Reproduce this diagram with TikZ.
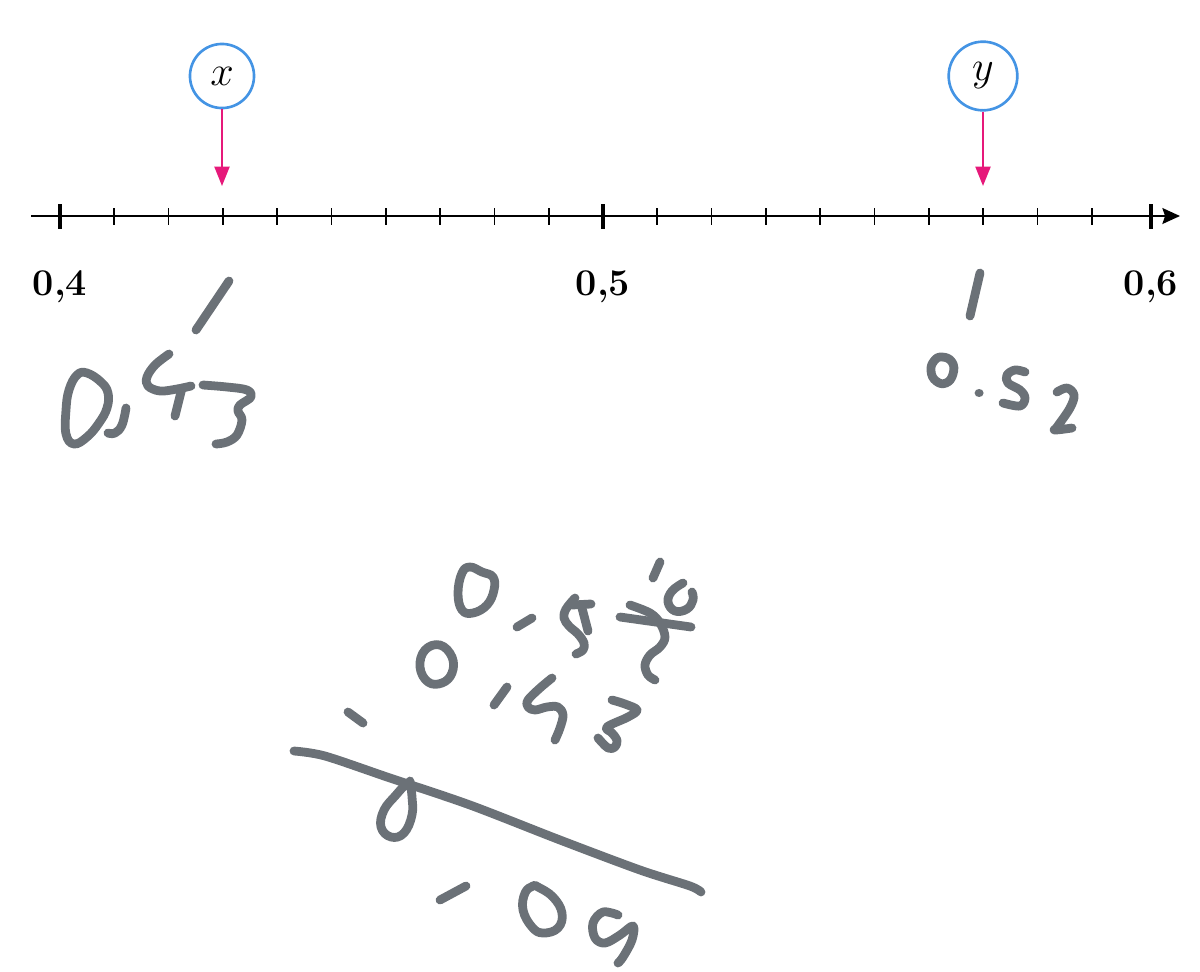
\documentclass[tikz,border=0pt]{standalone}
\usepackage{fix-cm}
\usetikzlibrary{arrows.meta}
\definecolor{cINK}{HTML}{6B7177}
\definecolor{cPNK}{HTML}{E6197A}
\definecolor{cBLU}{HTML}{4494E4}
\begin{document}
\begin{tikzpicture}[x=0.02cm, y=-0.02cm, >=Stealth,
  ink/.style={cINK, line width=5pt, line cap=round, line join=round},
  var/.style={circle, draw=cBLU, line width=1.5pt, inner sep=7pt, font=\fontsize{24}{28}\selectfont},
  ptr/.style={cPNK, line width=1.3pt, -{Triangle[length=11pt,width=8.5pt]}},
  lbl/.style={anchor=base, font=\fontsize{21.5}{26}\selectfont\bfseries}]
\useasboundingbox (0,0) rectangle (1200,971);
\coordinate (l0) at (31,216);
\coordinate (l1) at (1180,216);
\draw[line width=1.3pt, -{Stealth[length=10pt,width=9pt,inset=1.5pt]}] (l0) -- (l1);
\foreach \i in {1,...,19} \draw[line width=1pt] (60+54.3*\i,208) -- (60+54.3*\i,225);
\foreach \n/\x/\t in {lab4/60/{0,4}, lab5/603/{0,5}, lab6/1151/{0,6}} {
  \draw[line width=1.8pt] (\x,204) -- (\x,229);
  \node[lbl] (\n) at (\x,295) {\t};
}
\node[var] (x) at (222,76) {$x$};
\node[var] (y) at (983,76) {$y$};
\coordinate (px) at (222,186);
\coordinate (py) at (983,186);
\draw[ptr] (x) -- (px);
\draw[ptr] (y) -- (py);
% 0,43
\draw[ink] (229,281) -- (196,330);
\draw[ink] plot[smooth cycle, tension=0.7] coordinates {(87,373) (101,382) (108,393) (107,408) (99,423) (87,437) (74,444) (66,434) (66,410) (69,390) (77,375)};
\draw[ink] plot[smooth, tension=0.7] coordinates {(126,408) (122,425) (115,433) (108,433)};
\draw[ink] plot[smooth, tension=0.6] coordinates {(169,354) (155,365) (147,377) (148,386) (160,391) (177,389) (191,386)};
\draw[ink] (182,388) -- (175,416);
\draw[ink] plot[smooth, tension=0.6] coordinates {(203,385) (227,387) (247,390) (251,397) (240,405) (238,411) (242,420) (237,435) (227,442) (216,444)};
% 0.52
\draw[ink] (980,273) -- (970,316);
\draw[ink] plot[smooth cycle, tension=0.8] coordinates {(942,357) (952,362) (953,374) (946,383) (936,381) (931,371) (934,361)};
\draw[ink] (979,393) -- (979.2,393);
\draw[ink] plot[smooth, tension=0.6] coordinates {(1025,372) (1015,370) (1007,375) (1008,383) (1020,390) (1025,398) (1020,406) (1003,403)};
\draw[ink] plot[smooth, tension=0.6] coordinates {(1057,392) (1067,388) (1074,395) (1070,408) (1057,427) (1055,430) (1072,428)};
% upper row
\draw[ink] plot[smooth cycle, tension=0.7] coordinates {(482,572) (470,567) (462,573) (458,593) (462,610) (473,613) (487,605) (494,590) (493,577)};
\draw[ink] (517,627) -- (532,618);
\draw[ink] plot[smooth, tension=0.6] coordinates {(575,598) (566,609) (564,618) (569,626) (578,634) (584,643) (583,650) (576,654)};
\draw[ink] (572,605) -- (591,604);
\draw[ink] (582,608) -- (588,631);
\draw[ink] (660,562) -- (653,578);
\draw[ink] plot[smooth, tension=0.7] coordinates {(683,583) (672,591) (668,602) (675,611) (687,609) (693,600) (692,592)};
\draw[ink] (620,617) -- (691,627);
\draw[ink] plot[smooth, tension=0.6] coordinates {(630,605) (650,613) (660,623) (665,637) (660,647) (650,655) (645,665) (648,675) (655,680)};
% lower row
\draw[ink] (348,712) -- (363,723);
\draw[ink] plot[smooth cycle, tension=0.7] coordinates {(440,645) (425,650) (420,667) (428,682) (442,683) (452,673) (452,657)};
\draw[ink] (507,687) -- (494,705);
\draw[ink] plot[smooth, tension=0.6] coordinates {(552,678) (540,688) (528,700) (528,707) (535,710) (547,707) (558,707) (563,715) (560,728) (555,740)};
\draw[ink] plot[smooth, tension=0.6] coordinates {(612,700) (625,704) (637,710) (628,717) (607,727) (612,733) (617,740) (615,747) (608,748) (598,738)};
% bar and result
\draw[ink] plot[smooth, tension=0.5] coordinates {(294,751) (325,756) (390,778) (470,805) (560,840) (640,870) (690,886) (701,892)};
\draw[ink] plot[smooth, tension=0.7] coordinates {(410,781) (412,797) (412,815) (404,833) (391,837) (381,827) (384,810) (396,795) (404,786)};
\draw[ink] (440,900) -- (466,886);
\draw[ink] plot[smooth cycle, tension=0.7] coordinates {(533,886) (525,893) (523,910) (532,927) (543,933) (558,928) (562,913) (553,897) (538,887)};
\draw[ink] plot[smooth, tension=0.6] coordinates {(618,915) (603,912) (593,923) (595,938) (605,943) (620,935) (633,926) (632,940) (623,957) (618,963)};
\end{tikzpicture}
\end{document}
